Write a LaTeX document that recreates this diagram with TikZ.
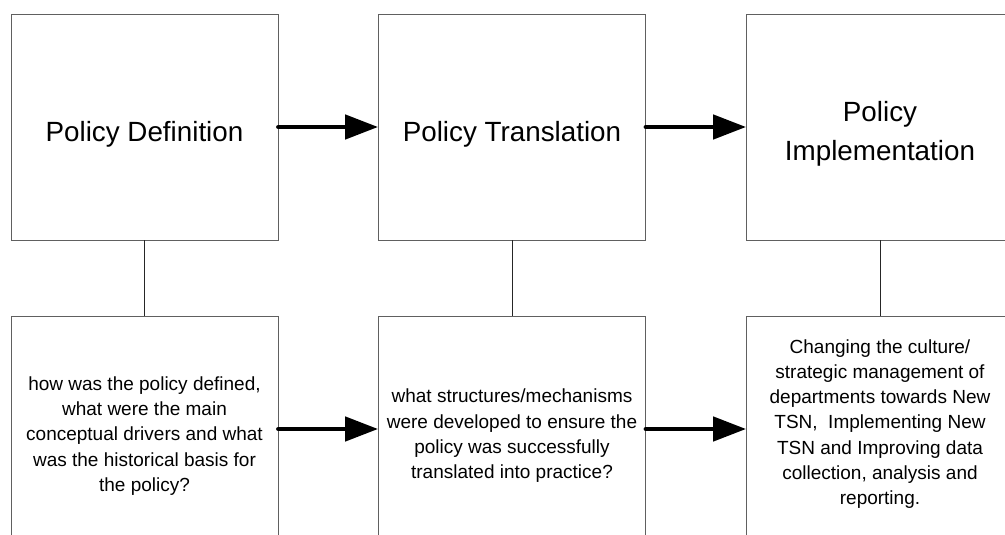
\documentclass[tikz,border=0pt]{standalone}
\usepackage{fontspec}
\setmainfont{Liberation Sans}
\usetikzlibrary{arrows.meta}
\begin{document}
\begin{tikzpicture}[x=1pt,y=-1pt,
  box/.style={draw=gray!75!black, line width=0.8pt, fill=white, minimum width=267pt, minimum height=226pt, inner sep=0pt},
  titletext/.style={align=center, inner sep=0pt, font=\fontsize{27.8}{38.5}\selectfont},
  detailtext/.style={align=center, inner sep=0pt, font=\fontsize{19}{25.3}\selectfont},
  flow/.style={line width=4.6pt, line cap=round, -{Triangle[length=33pt,width=24pt]}},
  link/.style={line width=0.7pt, draw=black!85}]
\useasboundingbox (0,0) rectangle (1005,535);
\clip (0,0) rectangle (1005,535);
\node[box] (t1) at (144.5,127) {};
\node[box] (t2) at (512,127) {};
\node[box] (t3) at (880,127) {};
\node[box] (b1) at (144.5,429) {};
\node[box] (b2) at (512,429) {};
\node[box] (b3) at (880,429) {};
\node[titletext, yshift=-7pt] (t1x) at (t1.center) {Policy Definition};
\node[titletext, yshift=-7pt] (t2x) at (t2.center) {Policy Translation};
\node[titletext, yshift=-7pt] (t3x) at (t3.center) {Policy\\Implementation};
\node[detailtext, yshift=-7pt] (b1x) at (b1.center) {how was the policy defined,\\what were the main\\conceptual drivers and what\\was the historical basis for\\the policy?};
\node[detailtext, yshift=-7pt] (b2x) at (b2.center) {what structures/mechanisms\\were developed to ensure the\\policy was successfully\\translated into practice?};
\node[detailtext, yshift=5pt] (b3x) at (b3.center) {Changing the culture/\\strategic management of\\departments towards New\\TSN,\ \ Implementing New\\TSN and Improving data\\collection, analysis and\\reporting.};
\draw[link] (t1.south) -- (b1.north);
\draw[link] (t2.south) -- (b2.north);
\draw[link] (t3.south) -- (b3.north);
\draw[flow] (t1.east) -- (t2.west);
\draw[flow] (t2.east) -- (t3.west);
\draw[flow] (b1.east) -- (b2.west);
\draw[flow] (b2.east) -- (b3.west);
\end{tikzpicture}
\end{document}
